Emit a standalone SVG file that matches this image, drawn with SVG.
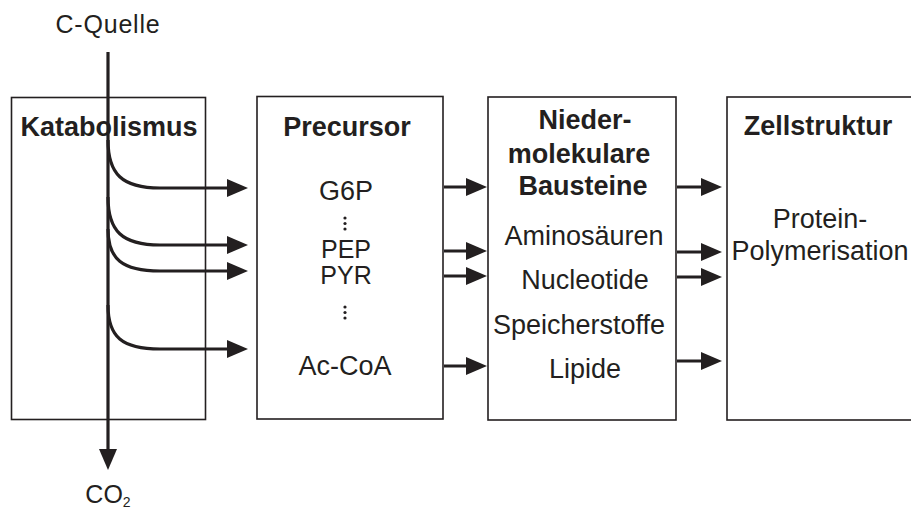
<svg xmlns="http://www.w3.org/2000/svg" width="911" height="509" viewBox="0 0 911 509">
<style>
.box{fill:none;stroke:#231f20;stroke-width:1.6}
.t{font-family:"Liberation Sans",Arial,sans-serif;font-size:27px;fill:#231f20;text-anchor:middle}
.b{font-weight:bold}
.s{font-size:25px}
.c{fill:none;stroke:#231f20;stroke-width:3.2}
.dot{fill:#231f20}
</style>
<defs>
<marker id="ah" markerUnits="userSpaceOnUse" markerWidth="22" markerHeight="20" refX="12" refY="9" orient="auto">
<path d="M0,0 L21,9 L0,18 z" fill="#231f20"/>
</marker>
</defs>
<rect width="911" height="509" fill="#fff"/>

<g id="katabolismus">
<rect class="box" x="11.5" y="97.5" width="194" height="322"/>
<text class="t b" x="109" y="136">Katabolismus</text>
</g>

<g id="precursor">
<rect class="box" x="257" y="96.5" width="186" height="322.5"/>
<text class="t b" x="347" y="136">Precursor</text>
<text class="t" x="346" y="200">G6P</text>
<circle class="dot" cx="345" cy="218" r="1.6"/><circle class="dot" cx="345" cy="223.5" r="1.6"/><circle class="dot" cx="345" cy="229" r="1.6"/>
<text class="t s" x="346" y="258">PEP</text>
<text class="t s" x="346" y="284">PYR</text>
<circle class="dot" cx="345" cy="307" r="1.6"/><circle class="dot" cx="345" cy="312.5" r="1.6"/><circle class="dot" cx="345" cy="318" r="1.6"/>
<text class="t" x="345" y="375">Ac-CoA</text>
</g>

<g id="bausteine">
<rect class="box" x="488" y="97" width="188" height="323"/>
<text class="t b" x="585" y="129">Nieder-</text>
<text class="t b" x="579" y="163">molekulare</text>
<text class="t b" x="583" y="195">Bausteine</text>
<text class="t" x="584" y="245">Aminosäuren</text>
<text class="t" x="585" y="289">Nucleotide</text>
<text class="t" x="579" y="334">Speicherstoffe</text>
<text class="t" x="585" y="378">Lipide</text>
</g>

<g id="zellstruktur">
<rect class="box" x="727" y="97" width="200" height="323"/>
<text class="t b" x="818" y="135">Zellstruktur</text>
<text class="t" x="820" y="228">Protein-</text>
<text class="t" x="820" y="260">Polymerisation</text>
</g>

<g id="labels">
<text class="t" x="108" y="33" style="font-size:25px;letter-spacing:0.8px">C-Quelle</text>
<text class="t" x="108" y="503" style="font-size:25px">CO<tspan dy="4" style="font-size:14px">2</tspan></text>
</g>

<g id="connectors">
<line class="c" x1="108" y1="52" x2="108" y2="461" marker-end="url(#ah)"/>
<path class="c" d="M108,140 C108,174 122,188 160,188 L239,188" marker-end="url(#ah)"/>
<path class="c" d="M108,197 C108,231 122,245 160,245 L239,245" marker-end="url(#ah)"/>
<path class="c" d="M108,229 C108,259 122,271 160,271 L239,271" marker-end="url(#ah)"/>
<path class="c" d="M108,305 C108,337 122,349 160,349 L239,349" marker-end="url(#ah)"/>
<line class="c" x1="444" y1="187" x2="478" y2="187" marker-end="url(#ah)"/>
<line class="c" x1="444" y1="251" x2="478" y2="251" marker-end="url(#ah)"/>
<line class="c" x1="444" y1="276" x2="478" y2="276" marker-end="url(#ah)"/>
<line class="c" x1="444" y1="366" x2="478" y2="366" marker-end="url(#ah)"/>
<line class="c" x1="677" y1="187" x2="713" y2="187" marker-end="url(#ah)"/>
<line class="c" x1="677" y1="252" x2="713" y2="252" marker-end="url(#ah)"/>
<line class="c" x1="677" y1="277" x2="713" y2="277" marker-end="url(#ah)"/>
<line class="c" x1="677" y1="361" x2="713" y2="361" marker-end="url(#ah)"/>
</g>
</svg>
